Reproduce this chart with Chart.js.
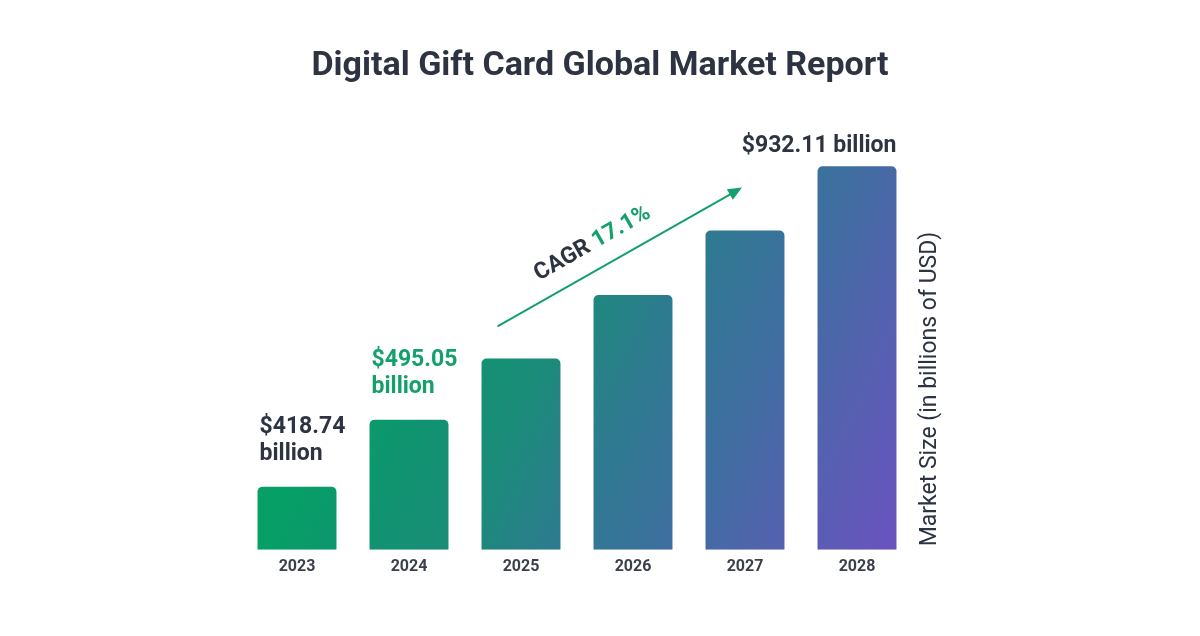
<!DOCTYPE html>
<html>
<head>
<meta charset="utf-8">
<title>Digital Gift Card Global Market Report</title>
<script src="https://cdn.jsdelivr.net/npm/chart.js@4.4.1/dist/chart.umd.min.js"></script>
<style>
  html, body { margin: 0; padding: 0; background: #fff; }
  #wrap { width: 1200px; height: 636px; position: relative; }
</style>
</head>
<body>
<div id="wrap"><canvas id="market-chart" width="1200" height="636"></canvas></div>
<script>
const chartTitle = 'Digital Gift Card Global Market Report';
const axisTitle = 'Market Size (in billions of USD)';
const years = ['2023', '2024', '2025', '2026', '2027', '2028'];
// billions USD, 2025-2027
const marketSize = [418.74, 495.05, 577, 676, 794, 932.11];
const valueLabels = [['$418.74', 'billion'], ['$495.05', 'billion'], null, null, null, ['$932.11 billion']];
const labelColors = ['#2d3340', '#14a06a', null, null, null, '#2d3340'];
const cagrParts = ['CAGR ', '17.1%'];

const DARK = '#2d3340';
const GREEN = '#14a06a';
const FONT = 'Roboto, "Noto Sans", sans-serif';

let gradCache = null;
function barGradient(context) {
    const chart = context.chart;
    const area = chart.chartArea;
    if (!area) return '#0a9c68';
    if (gradCache && gradCache.key === area.left + ':' + area.bottom) return gradCache.g;
    const w = area.right - area.left;
    const x0 = area.left + w * 0.0253;
    const y0 = area.bottom;
    const g = chart.ctx.createLinearGradient(x0, y0, x0 + w * 0.779, y0 + w * 0.366);
    g.addColorStop(0, '#06a066');
    g.addColorStop(0.15, '#0f946f');
    g.addColorStop(0.3, '#1a8c78');
    g.addColorStop(0.474, '#2e7a90');
    g.addColorStop(0.65, '#3f6ea0');
    g.addColorStop(0.825, '#5660b0');
    g.addColorStop(1, '#6a52c0');
    gradCache = { key: area.left + ':' + area.bottom, g: g };
    return g;
}

// texts, arrow and side title drawn on top of the bars
const annotations = {
    id: 'annotations',
    afterDatasetsDraw(chart) {
        const ctx = chart.ctx;
        const bars = chart.getDatasetMeta(0).data;
        ctx.save();

        // title
        ctx.fillStyle = DARK;
        ctx.font = 'bold 34px ' + FONT;
        ctx.textAlign = 'center';
        ctx.textBaseline = 'middle';
        ctx.fillText(chartTitle, chart.width / 2, 66);

        // value labels
        ctx.font = 'bold 23px ' + FONT;
        valueLabels.forEach((lines, i) => {
            if (!lines) return;
            const bar = bars[i];
            ctx.fillStyle = labelColors[i];
            if (lines.length === 1) {
                ctx.textAlign = 'right';
                ctx.fillText(lines[0], bar.x + bar.width / 2, bar.y - 20);
            } else {
                ctx.textAlign = 'left';
                const left = bar.x - bar.width / 2 + 2;
                ctx.fillText(lines[0], left, bar.y - 60);
                ctx.fillText(lines[1], left, bar.y - 33);
            }
        });

        // CAGR arrow
        const b25 = bars[2], b27 = bars[4];
        const sx = b25.x - b25.width / 2 + 16, sy = b25.y - 32;
        const ex = b27.x - 3, ey = b27.y - 43;
        const ang = Math.atan2(ey - sy, ex - sx);
        ctx.strokeStyle = GREEN;
        ctx.fillStyle = GREEN;
        ctx.lineWidth = 2;
        ctx.beginPath();
        ctx.moveTo(sx, sy);
        ctx.lineTo(ex - 8 * Math.cos(ang), ey - 8 * Math.sin(ang));
        ctx.stroke();
        ctx.beginPath();
        ctx.moveTo(ex, ey);
        ctx.lineTo(ex - 14 * Math.cos(ang) + 6 * Math.sin(ang), ey - 14 * Math.sin(ang) - 6 * Math.cos(ang));
        ctx.lineTo(ex - 14 * Math.cos(ang) - 6 * Math.sin(ang), ey - 14 * Math.sin(ang) + 6 * Math.cos(ang));
        ctx.closePath();
        ctx.fill();

        // CAGR text along the arrow
        ctx.font = 'bold 23px ' + FONT;
        const mx = (sx + ex) / 2, my = (sy + ey) / 2;
        ctx.translate(mx, my);
        ctx.rotate(ang);
        const w0 = ctx.measureText(cagrParts[0]).width;
        const w1 = ctx.measureText(cagrParts[1]).width;
        let tx = -17 - (w0 + w1) / 2;
        ctx.textAlign = 'left';
        ctx.textBaseline = 'middle';
        ctx.fillStyle = DARK;
        ctx.fillText(cagrParts[0], tx, -25);
        ctx.fillStyle = GREEN;
        ctx.fillText(cagrParts[1], tx + w0, -25);
        ctx.restore();

        // right side axis title
        ctx.save();
        ctx.translate(chart.chartArea.right + 17, 389);
        ctx.rotate(-Math.PI / 2);
        ctx.fillStyle = DARK;
        ctx.font = '23px ' + FONT;
        ctx.textAlign = 'center';
        ctx.textBaseline = 'middle';
        ctx.fillText(axisTitle, 0, 0);
        ctx.restore();
    }
};

const ctx = document.getElementById('market-chart').getContext('2d');
const marketChart = new Chart(ctx, {
    type: 'bar',
    data: {
        labels: years,
        datasets: [{
            data: marketSize,
            backgroundColor: barGradient,
            borderRadius: { topLeft: 5, topRight: 5 },
            borderSkipped: 'bottom',
            barPercentage: 0.705,
            categoryPercentage: 1
        }]
    },
    options: {
        responsive: false,
        animation: false,
        devicePixelRatio: 1,
        layout: { padding: { left: 241, right: 287, top: 100, bottom: 51 } },
        plugins: {
            legend: { display: false },
            tooltip: { enabled: false }
        },
        scales: {
            x: {
                grid: { display: false, drawTicks: false },
                border: { display: false },
                ticks: { color: '#3a3f4a', font: { family: FONT, size: 16, weight: 'bold' }, padding: 8 }
            },
            y: {
                type: 'logarithmic',
                display: false,
                min: 357.8,
                max: 1100
            }
        }
    },
    plugins: [annotations]
});
</script>
</body>
</html>
